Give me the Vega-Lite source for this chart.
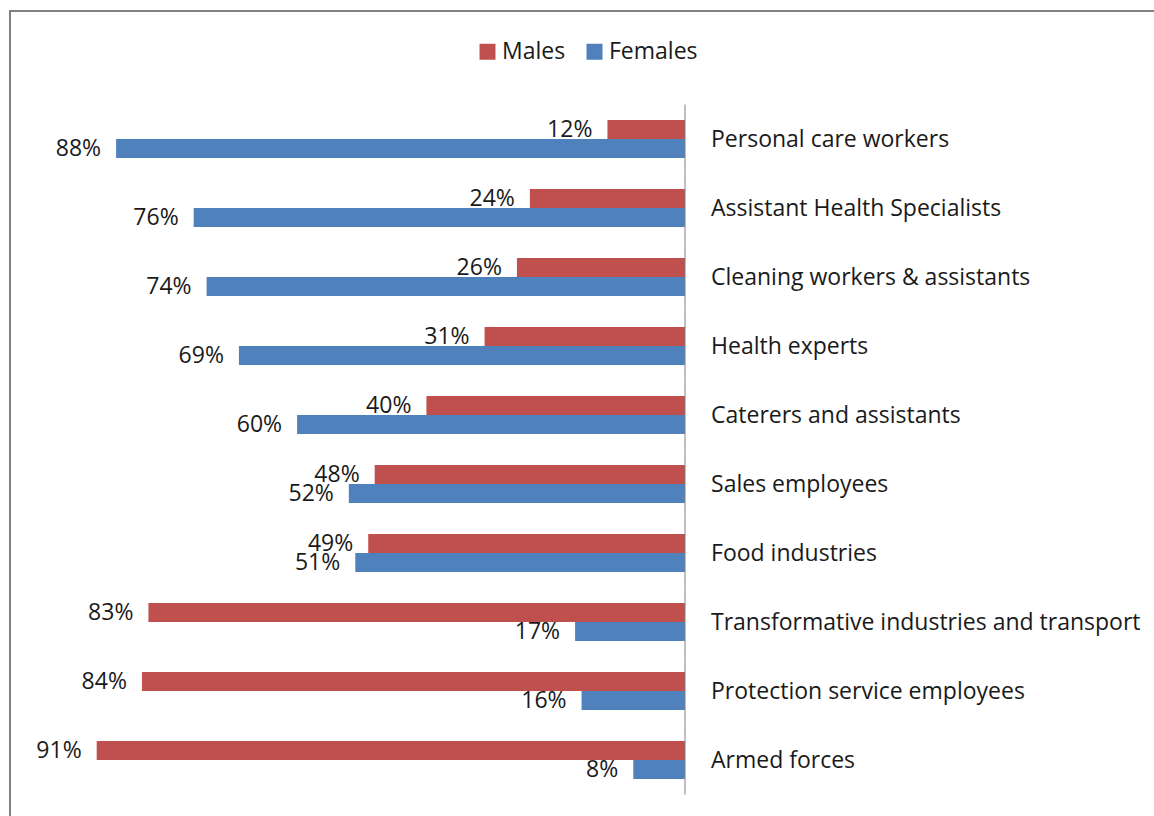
{
  "$schema": "https://vega.github.io/schema/vega-lite/v6.json",
  "width": 1150,
  "height": 810,
  "padding": {"left": 10, "top": 11, "right": 0, "bottom": 0},
  "autosize": {"type": "none"},
  "background": "white",
  "config": {
    "view": {"stroke": "#808080", "strokeWidth": 2},
    "font": "Open Sans"
  },
  "data": {
    "values": [
      {"category": "Personal care workers", "sex": "Males", "pct": 0.12},
      {"category": "Personal care workers", "sex": "Females", "pct": 0.88},
      {"category": "Assistant Health Specialists", "sex": "Males", "pct": 0.24},
      {"category": "Assistant Health Specialists", "sex": "Females", "pct": 0.76},
      {"category": "Cleaning workers & assistants", "sex": "Males", "pct": 0.26},
      {"category": "Cleaning workers & assistants", "sex": "Females", "pct": 0.74},
      {"category": "Health experts", "sex": "Males", "pct": 0.31},
      {"category": "Health experts", "sex": "Females", "pct": 0.69},
      {"category": "Caterers and assistants", "sex": "Males", "pct": 0.40},
      {"category": "Caterers and assistants", "sex": "Females", "pct": 0.60},
      {"category": "Sales employees", "sex": "Males", "pct": 0.48},
      {"category": "Sales employees", "sex": "Females", "pct": 0.52},
      {"category": "Food industries", "sex": "Males", "pct": 0.49},
      {"category": "Food industries", "sex": "Females", "pct": 0.51},
      {"category": "Transformative industries and transport", "sex": "Males", "pct": 0.83},
      {"category": "Transformative industries and transport", "sex": "Females", "pct": 0.17},
      {"category": "Protection service employees", "sex": "Males", "pct": 0.84},
      {"category": "Protection service employees", "sex": "Females", "pct": 0.16},
      {"category": "Armed forces", "sex": "Males", "pct": 0.91},
      {"category": "Armed forces", "sex": "Females", "pct": 0.08}
    ]
  },
  "encoding": {
    "y": {
      "field": "category",
      "type": "nominal",
      "sort": null,
      "axis": null,
      "scale": {"paddingInner": 0, "paddingOuter": 0.8696, "align": 0.779}
    }
  },
  "layer": [
    {
      "mark": {"type": "bar"},
      "encoding": {
        "yOffset": {
          "field": "sex",
          "type": "nominal",
          "sort": ["Males", "Females"],
          "scale": {"paddingInner": 0, "paddingOuter": 0.816}
        },
        "x": {
          "field": "pct",
          "type": "quantitative",
          "axis": null,
          "scale": {"domain": [-0.7347, 1.0441], "reverse": true, "nice": false, "zero": false}
        },
        "x2": {"datum": 0},
        "color": {
          "field": "sex",
          "type": "nominal",
          "scale": {"domain": ["Males", "Females"], "range": ["#C0504D", "#4F81BD"]},
          "legend": {
            "orient": "none",
            "legendX": 466,
            "legendY": 29,
            "direction": "horizontal",
            "title": null,
            "symbolType": "square",
            "symbolSize": 256,
            "symbolStrokeWidth": 0,
            "symbolOpacity": 1,
            "labelFontSize": 23,
            "labelFont": "Open Sans",
            "labelColor": "#1a1a1a",
            "labelOffset": 3,
            "columnPadding": 17
          }
        }
      }
    },
    {
      "mark": {"type": "text", "align": "right", "baseline": "middle", "dx": -15, "dy": 1, "fontSize": 23, "font": "Open Sans", "color": "#1a1a1a"},
      "encoding": {
        "yOffset": {
          "field": "sex",
          "type": "nominal",
          "sort": ["Males", "Females"],
          "scale": {"paddingInner": 0, "paddingOuter": 0.816}
        },
        "x": {"field": "pct", "type": "quantitative"},
        "text": {"field": "pct", "type": "quantitative", "format": ".0%"}
      }
    },
    {
      "transform": [{"filter": "datum.sex === 'Males'"}],
      "mark": {"type": "text", "align": "left", "baseline": "middle", "dx": 26, "dy": 1, "fontSize": 23, "font": "Open Sans", "color": "#1a1a1a"},
      "encoding": {
        "x": {"datum": 0},
        "text": {"field": "category", "type": "nominal"}
      }
    },
    {
      "transform": [{"filter": "datum.sex === 'Males'"}],
      "mark": {"type": "tick", "orient": "vertical", "size": 69, "thickness": 1, "color": "#808080", "opacity": 1},
      "encoding": {
        "x": {"datum": 0}
      }
    }
  ]
}
